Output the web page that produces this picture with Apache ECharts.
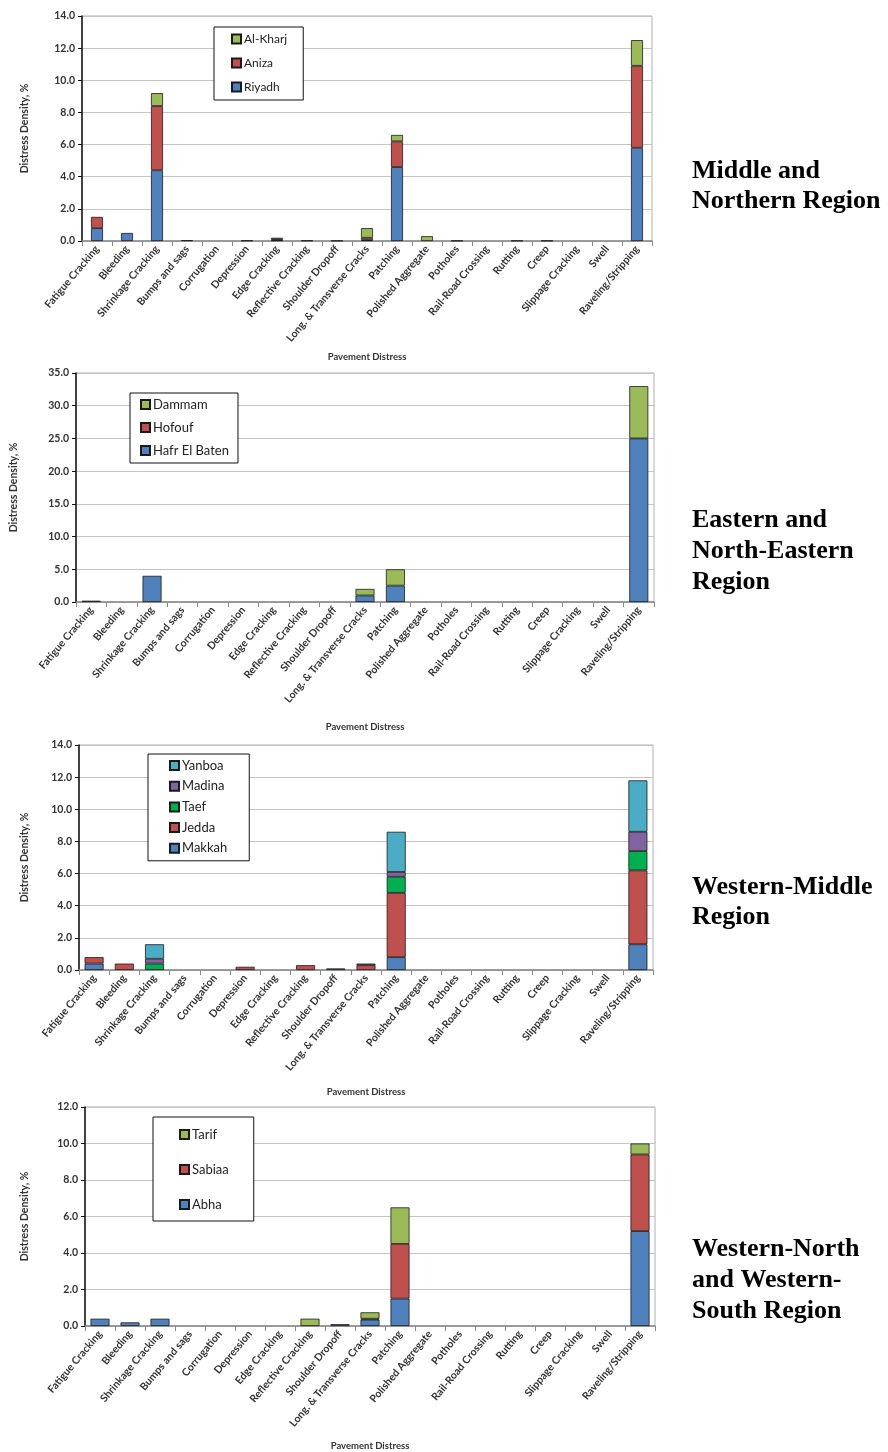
<!DOCTYPE html>
<html>
<head>
<meta charset="utf-8">
<script src="https://cdn.jsdelivr.net/npm/echarts@6/dist/echarts.min.js"></script>
<style>
  html, body { margin: 0; padding: 0; background: #fff; }
  #main { width: 888px; height: 1452px; }
</style>
</head>
<body>
<div id="main"></div>
<script>
// Pavement distress categories shared by all four regional charts
const categories = ['Fatigue Cracking', 'Bleeding', 'Shrinkage Cracking', 'Bumps and sags', 'Corrugation',
  'Depression', 'Edge Cracking', 'Reflective Cracking', 'Shoulder Dropoff', 'Long. & Transverse Cracks',
  'Patching', 'Polished Aggregate', 'Potholes', 'Rail-Road Crossing', 'Rutting', 'Creep',
  'Slippage Cracking', 'Swell', 'Raveling/Stripping'];

// Middle and Northern Region (distress density, %)
const riyadh  = [0.8, 0.5, 4.4, 0.05, 0, 0.03, 0.05, 0.03, 0.02, 0.05, 4.6, 0, 0.02, 0, 0.02, 0.02, 0, 0, 5.8];
const aniza   = [0.7, 0, 4.0, 0, 0, 0, 0.05, 0, 0, 0.15, 1.6, 0, 0, 0, 0, 0, 0, 0, 5.1];
const alKharj = [0, 0, 0.8, 0, 0, 0, 0.1, 0, 0, 0.6, 0.4, 0.3, 0, 0, 0, 0, 0, 0, 1.6];

// Eastern and North-Eastern Region
const hafrElBaten = [0.2, 0, 4.0, 0, 0, 0, 0, 0, 0, 1.0, 2.5, 0, 0, 0, 0, 0, 0, 0, 25.0];
const hofouf      = [0, 0, 0, 0, 0, 0, 0, 0, 0, 0, 0, 0, 0, 0, 0, 0, 0, 0, 0];
const dammam      = [0, 0, 0, 0, 0, 0, 0, 0, 0, 1.0, 2.5, 0, 0, 0, 0, 0, 0, 0, 8.0];

// Western-Middle Region
const makkah = [0.4, 0, 0, 0, 0, 0, 0, 0, 0.1, 0, 0.8, 0, 0, 0, 0, 0, 0, 0, 1.6];
const jedda  = [0.4, 0.4, 0, 0, 0, 0.2, 0, 0.3, 0, 0.3, 4.0, 0, 0, 0, 0, 0, 0, 0, 4.6];
const taef   = [0, 0, 0.4, 0, 0, 0, 0, 0, 0, 0, 1.0, 0, 0, 0, 0, 0, 0, 0, 1.2];
const madina = [0, 0, 0.3, 0, 0, 0, 0, 0, 0, 0.1, 0.3, 0, 0, 0, 0, 0, 0, 0, 1.2];
const yanboa = [0, 0, 0.9, 0, 0, 0, 0, 0, 0, 0, 2.5, 0, 0, 0, 0, 0, 0, 0, 3.2];

// Western-North and Western-South Region
const abha   = [0.4, 0.2, 0.4, 0, 0, 0, 0, 0, 0.1, 0.35, 1.5, 0, 0, 0, 0, 0, 0, 0, 5.2];
const sabiaa = [0, 0, 0, 0, 0, 0, 0, 0, 0, 0.05, 3.0, 0, 0, 0, 0, 0, 0, 0, 4.2];
const tarif  = [0, 0, 0, 0, 0, 0, 0, 0.4, 0, 0.35, 2.0, 0, 0, 0, 0, 0, 0, 0, 0.6];

// Y-axis ranges per chart: [max, interval]
const yRanges = [[14, 2], [35, 5], [14, 2], [12, 2]];
const regionTitles = [
  ['Middle and', 'Northern Region'],
  ['Eastern and', 'North-Eastern', 'Region'],
  ['Western-Middle', 'Region'],
  ['Western-North', 'and Western-', 'South Region']
];

const C = {
  blue: '#4F81BD', red: '#C0504D', green: '#9BBB59',
  purple: '#8064A2', cyan: '#4BACC6', brightGreen: '#00B050'
};

// Plot-area boxes for the four stacked charts
const grids = [
  { left: 82, top: 16,   width: 570, height: 225 },
  { left: 73, top: 373,  width: 581, height: 229 },
  { left: 79, top: 745,  width: 574, height: 225 },
  { left: 85, top: 1107, width: 570, height: 224 }
];
const yNameGaps = [52, 57, 49, 55];
const xNameGaps = [111, 120, 117, 115];
const barWidths = [12, 19, 19, 19];
const titleLines = [[170, 200], [519, 550, 581], [886, 916], [1248, 1279, 1310]];

const seriesDefs = [
  [['Riyadh', riyadh, C.blue], ['Aniza', aniza, C.red], ['Al-Kharj', alKharj, C.green]],
  [['Hafr El Baten', hafrElBaten, C.blue], ['Hofouf', hofouf, C.red], ['Dammam', dammam, C.green]],
  [['Makkah', makkah, C.blue], ['Jedda', jedda, C.red], ['Taef', taef, C.brightGreen],
   ['Madina', madina, C.purple], ['Yanboa', yanboa, C.cyan]],
  [['Abha', abha, C.blue], ['Sabiaa', sabiaa, C.red], ['Tarif', tarif, C.green]]
];

// Legend boxes (items listed top-down in reverse stacking order)
const legendBoxes = [
  { left: 214, top: 27,   itemGap: 12,  padding: [6, 16, 7, 17], fontSize: 12 },
  { left: 130, top: 393,  itemGap: 10,  padding: [5, 9, 6, 10], fontSize: 13 },
  { left: 148, top: 754,  itemGap: 7.7, padding: [5, 22, 6, 21], fontSize: 13 },
  { left: 153, top: 1117, itemGap: 22,  padding: [11, 25, 10, 26], fontSize: 13 }
];

const FONT = 'Lato, "Open Sans", sans-serif';

const option = {
  backgroundColor: '#fff',
  animation: false,
  grid: grids.map(g => Object.assign({
    show: true, borderColor: '#b0b0b0', borderWidth: 1, backgroundColor: 'transparent', containLabel: false
  }, g)),
  xAxis: grids.map((g, i) => ({
    type: 'category', gridIndex: i, data: categories,
    name: 'Pavement Distress', nameLocation: 'middle', nameGap: xNameGaps[i],
    nameTextStyle: { fontFamily: FONT, fontWeight: 'bold', fontSize: 9.5, color: '#333' },
    axisLine: { lineStyle: { color: '#888', width: 1.5 } },
    axisTick: { show: true, length: 5, lineStyle: { color: '#888' } },
    axisLabel: {
      interval: 0, rotate: 50, fontFamily: FONT, fontWeight: 'bold', fontSize: 10.5,
      color: '#333', margin: 6
    },
    splitLine: { show: false }
  })),
  yAxis: grids.map((g, i) => ({
    type: 'value', gridIndex: i, min: 0, max: yRanges[i][0], interval: yRanges[i][1],
    name: 'Distress Density, %', nameLocation: 'middle', nameGap: yNameGaps[i],
    nameTextStyle: { fontFamily: FONT, fontWeight: 'bold', fontSize: 10.5, color: '#333' },
    axisLine: { show: true, lineStyle: { color: '#111', width: 1.5 } },
    axisTick: { show: true, length: 4, lineStyle: { color: '#111' } },
    axisLabel: {
      fontFamily: FONT, fontWeight: 'bold', fontSize: 10.5, color: '#333', margin: 7,
      formatter: v => v.toFixed(1)
    },
    splitLine: { lineStyle: { color: '#c4c4c4', width: 1 } }
  })),
  legend: seriesDefs.map((defs, i) => {
    const b = legendBoxes[i];
    return {
      orient: 'vertical',
      data: defs.map(d => d[0]).reverse(),
      left: b.left, top: b.top, itemGap: b.itemGap, padding: b.padding,
      borderColor: '#111', borderWidth: 1, backgroundColor: '#fff',
      icon: 'rect', itemWidth: 9, itemHeight: 9,
      textStyle: { fontFamily: FONT, fontSize: b.fontSize, color: '#222', padding: [0, 0, 0, -2] },
      selectedMode: false
    };
  }),
  series: seriesDefs.flatMap((defs, i) => defs.map(([name, values, color]) => ({
    name, type: 'bar', stack: 'region' + i,
    xAxisIndex: i, yAxisIndex: i, barWidth: barWidths[i],
    data: values.map(v => (v === 0 ? null : v)),
    itemStyle: { color, borderColor: '#1a1a1a', borderWidth: 0.8 }
  }))),
  graphic: regionTitles.flatMap((lines, i) => lines.map((t, j) => ({
    type: 'text', left: 692, top: titleLines[i][j] - 12,
    style: { text: t, font: 'bold 26px "Liberation Serif", "Times New Roman", serif', fill: '#000' }
  })))
};

const chart = echarts.init(document.getElementById('main'), null, { renderer: 'canvas', width: 888, height: 1452 });
chart.setOption(option);
</script>
</body>
</html>
